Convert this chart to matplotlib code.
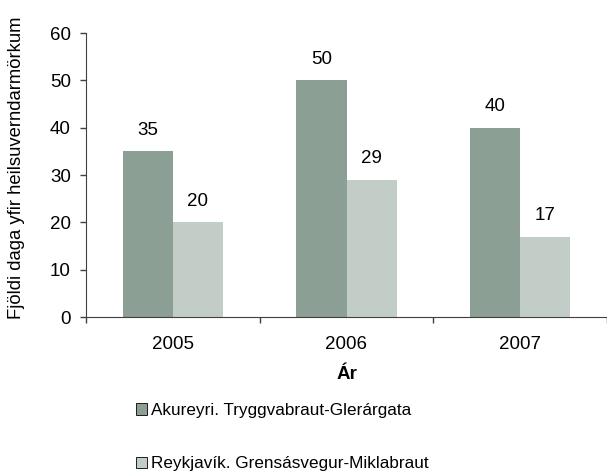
import numpy as np
import matplotlib.pyplot as plt
from matplotlib.patches import Patch

plt.rcParams['font.family'] = ['Liberation Sans', 'DejaVu Sans']

years = ['2005', '2006', '2007']
akureyri = [35, 50, 40]
reykjavik = [20, 29, 17]
series_names = ['Akureyri. Tryggvabraut-Glerárgata', 'Reykjavík. Grensásvegur-Miklabraut']
colors = ['#8c9f94', '#c3cdc7']

fig = plt.figure(figsize=(6.07, 4.73), dpi=100)
ax = fig.add_axes([86/607, 1 - 317/473, 1 - 86/607, (317 - 33)/473])

x = np.arange(len(years))
w = 0.288
b1 = ax.bar(x - w/2, akureyri, w, color=colors[0])
b2 = ax.bar(x + w/2, reykjavik, w, color=colors[1])
for bars in (b1, b2):
    for r in bars:
        ax.annotate(f'{r.get_height():.0f}', (r.get_x() + r.get_width()/2, r.get_height()),
                    xytext=(0, 9), textcoords='offset points', ha='center', va='bottom', fontsize=13.5)

ax.set_xlim(-0.5, 2.5)
ax.set_ylim(0, 60)
ax.set_yticks(range(0, 61, 10))
ax.set_xticks(x)
ax.set_xticklabels(years)
ax.set_xticks(np.arange(-0.5, 3, 1), minor=True)
ax.tick_params(axis='x', which='major', length=0, pad=14, labelsize=13.5)
ax.tick_params(axis='x', which='minor', length=4.3, width=1, color='#404040')
ax.tick_params(axis='y', length=4.5, width=1, color='#404040', labelsize=13.5, pad=6.5)
for s in ['top', 'right']:
    ax.spines[s].set_visible(False)
for s in ['left', 'bottom']:
    ax.spines[s].set_color('#404040')
ax.set_xlabel('Ár', fontweight='bold', fontsize=13.5, labelpad=9)
ax.set_ylabel('Fjöldi daga yfir heilsuverndarmörkum', fontsize=13.3)
ax.yaxis.set_label_coords(-0.118, 0.525)

handles = [Patch(facecolor=colors[0], edgecolor='black', linewidth=0.6),
           Patch(facecolor=colors[1], edgecolor='black', linewidth=0.6)]
fig.legend(handles, series_names, loc='upper left', bbox_to_anchor=(136/607, 1 - 403/473),
           frameon=False, fontsize=12.3, handlelength=0.65, handleheight=0.65,
           handletextpad=0.25, labelspacing=2.25, borderpad=0, borderaxespad=0)

fig.savefig('out.png', dpi=100)
